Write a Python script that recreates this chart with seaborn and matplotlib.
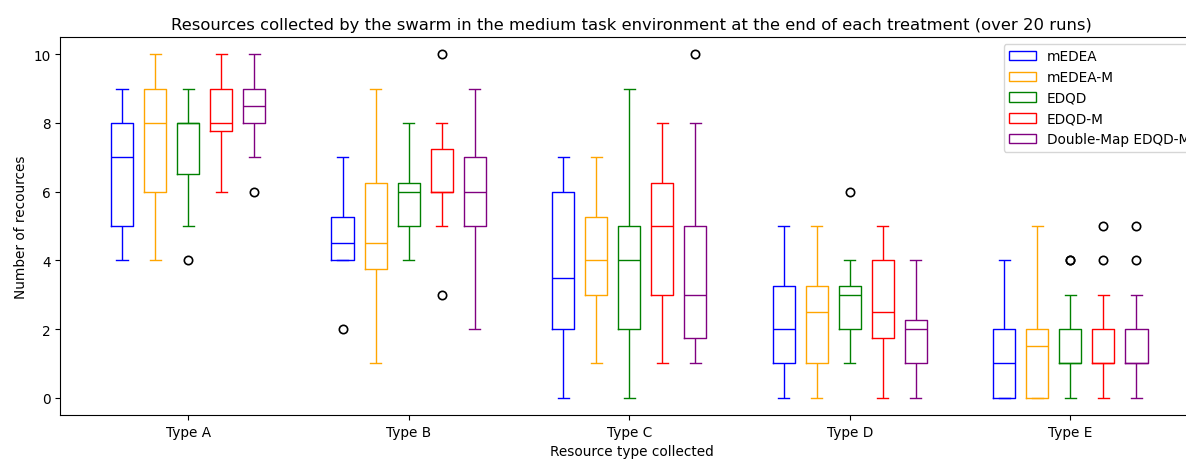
import matplotlib
matplotlib.use("Agg")
import matplotlib.pyplot as plt
import pandas as pd
import seaborn as sns

# Resources collected per run (20 runs), one list per resource type A..E
resource_types = ["Type A", "Type B", "Type C", "Type D", "Type E"]
methods = ["mEDEA", "mEDEA-M", "EDQD", "EDQD-M", "Double-Map EDQD-M"]
colors = ["blue", "orange", "green", "red", "purple"]

medea = [
    [4, 4, 5, 5, 5, 5, 6, 6, 7, 7, 7, 7, 8, 8, 8, 8, 8, 9, 9, 9],
    [2, 4, 4, 4, 4, 4, 4, 4, 4, 4, 5, 5, 5, 5, 5, 6, 6, 6, 7, 7],
    [0, 1, 1, 2, 2, 2, 2, 3, 3, 3, 4, 4, 5, 5, 6, 6, 6, 7, 7, 7],
    [0, 0, 1, 1, 1, 1, 1, 2, 2, 2, 2, 2, 3, 3, 3, 4, 4, 4, 5, 5],
    [0, 0, 0, 0, 0, 0, 1, 1, 1, 1, 1, 1, 2, 2, 2, 2, 3, 3, 4, 4],
]
medea_m = [
    [4, 5, 6, 6, 6, 6, 7, 7, 8, 8, 8, 8, 9, 9, 9, 9, 9, 10, 10, 10],
    [1, 2, 3, 3, 3, 4, 4, 4, 4, 4, 5, 5, 6, 6, 6, 7, 7, 8, 8, 9],
    [1, 2, 2, 3, 3, 3, 3, 4, 4, 4, 4, 4, 5, 5, 5, 6, 6, 6, 7, 7],
    [0, 0, 1, 1, 1, 1, 2, 2, 2, 2, 3, 3, 3, 3, 3, 4, 4, 4, 5, 5],
    [0, 0, 0, 0, 0, 0, 1, 1, 1, 1, 2, 2, 2, 2, 2, 2, 3, 4, 4, 5],
]
edqd = [
    [4, 5, 5, 5, 5, 7, 7, 7, 8, 8, 8, 8, 8, 8, 8, 8, 9, 9, 9, 9],
    [4, 4, 5, 5, 5, 5, 5, 6, 6, 6, 6, 6, 6, 6, 6, 7, 7, 7, 8, 8],
    [0, 1, 1, 2, 2, 2, 3, 3, 4, 4, 4, 4, 5, 5, 5, 5, 6, 7, 8, 9],
    [1, 1, 2, 2, 2, 2, 2, 3, 3, 3, 3, 3, 3, 3, 3, 4, 4, 4, 4, 6],
    [0, 0, 1, 1, 1, 1, 1, 1, 1, 1, 1, 2, 2, 2, 2, 2, 3, 3, 4, 4],
]
edqd_m = [
    [6, 6, 7, 7, 7, 8, 8, 8, 8, 8, 8, 8, 9, 9, 9, 9, 9, 10, 10, 10],
    [3, 5, 6, 6, 6, 6, 6, 6, 6, 6, 6, 6, 7, 7, 7, 8, 8, 8, 8, 10],
    [1, 2, 2, 3, 3, 3, 4, 4, 4, 5, 5, 5, 6, 6, 6, 7, 7, 8, 8, 8],
    [0, 0, 1, 1, 1, 2, 2, 2, 2, 2, 3, 3, 3, 4, 4, 4, 4, 5, 5, 5],
    [0, 0, 1, 1, 1, 1, 1, 1, 1, 1, 1, 2, 2, 2, 2, 2, 2, 3, 4, 5],
]
double_map_edqd_m = [
    [6, 7, 8, 8, 8, 8, 8, 8, 8, 8, 9, 9, 9, 9, 9, 9, 9, 10, 10, 10],
    [2, 3, 4, 5, 5, 5, 5, 6, 6, 6, 6, 6, 6, 7, 7, 7, 8, 8, 9, 9],
    [1, 1, 1, 1, 1, 2, 2, 2, 3, 3, 3, 3, 4, 4, 5, 5, 6, 7, 8, 10],
    [0, 0, 1, 1, 1, 1, 1, 2, 2, 2, 2, 2, 2, 2, 2, 3, 3, 3, 4, 4],
    [0, 1, 1, 1, 1, 1, 1, 1, 1, 1, 1, 2, 2, 2, 2, 2, 3, 3, 4, 5],
]

series = [medea, medea_m, edqd, edqd_m, double_map_edqd_m]

rows = []
for method, per_type in zip(methods, series):
    for rtype, runs in zip(resource_types, per_type):
        for v in runs:
            rows.append({"type": rtype, "value": v, "method": method})
df = pd.DataFrame(rows)

plt.rcParams.update({
    "font.size": 9.8,
    "axes.titlesize": 11.75,
    "axes.labelsize": 9.8,
    "xtick.labelsize": 9.8,
    "ytick.labelsize": 9.8,
    "legend.fontsize": 9.8,
})

fig = plt.figure(figsize=(11.86, 4.60), dpi=100)
# the plotting area runs on past the right edge of the canvas
ax = fig.add_axes([0.051, 0.0957, 0.963, 0.8217])

sns.boxplot(
    data=df, x="type", y="value", hue="method",
    order=resource_types, hue_order=methods,
    palette=dict(zip(methods, colors)),
    fill=False, width=0.75, gap=0.33, linewidth=1.0,
    flierprops=dict(marker="o", markeredgecolor="black",
                    markerfacecolor="none", markersize=6,
                    markeredgewidth=1.2),
    ax=ax,
)

ax.set_xlim(-0.579, 4.60)
ax.set_ylim(-0.5, 10.5)
ax.set_title("Resources collected by the swarm in the medium task environment "
             "at the end of each treatment (over 20 runs)")
ax.set_xlabel("Resource type collected")
ax.set_ylabel("Number of recources")
sns.move_legend(ax, "upper right", title=None)

fig.savefig("out.png", dpi=100)
